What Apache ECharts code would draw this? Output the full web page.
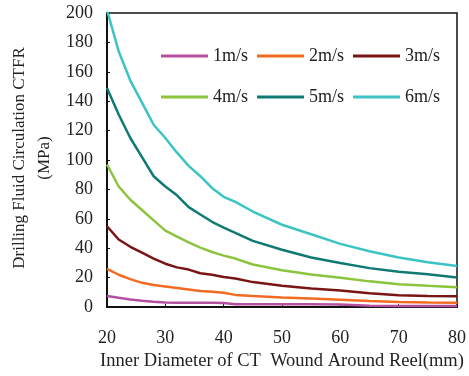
<!DOCTYPE html>
<html>
<head>
<meta charset="utf-8">
<script src="https://cdn.jsdelivr.net/npm/echarts@6/dist/echarts.min.js"></script>
<style>
  html, body { margin: 0; padding: 0; background: #fff; }
  #chart { width: 469px; height: 376px; }
</style>
</head>
<body>
<div id="chart"></div>
<script>
// inner diameter (mm)
const diameters = [20, 22, 24, 26, 28, 30, 32, 34, 36, 38, 40, 42, 45, 50, 55, 60, 65, 70, 75, 80]

// CTFR (MPa) per flow velocity
const v1 = [7.5, 6.3, 5.2, 4.3, 3.6, 3.1, 3.0, 3.0, 3.0, 2.9, 2.8, 2.0, 2.0, 2.0, 1.9, 1.7, 0.9, 0.8, 0.8, 0.8]
const v2 = [26, 22, 19, 16.5, 15, 14, 13, 12, 11, 10.5, 9.8, 8.3, 7.6, 6.6, 5.8, 5.0, 4.1, 3.4, 3.1, 3.0]
const v3 = [55, 46, 41, 37, 33, 29.5, 27, 25.5, 23, 22, 20.5, 19.5, 17, 14.5, 12.6, 11.3, 9.5, 8.1, 7.6, 7.3]
const v4 = [97, 82, 73, 66, 59, 52, 48, 44, 40.5, 37.5, 35, 33, 29, 25, 22.2, 20, 17.5, 15.6, 14.5, 13.5]
const v5 = [149, 131, 115, 102, 89, 82, 76, 68, 63, 58, 54, 50.5, 45, 39, 33.7, 30, 26.5, 24, 22.3, 20.2]
const v6 = [202, 174, 154, 139, 124, 115, 105, 96, 89, 81, 75, 71.5, 65, 56, 49.5, 43, 38, 33.7, 30.5, 28]

const names = ['1m/s', '2m/s', '3m/s', '4m/s', '5m/s', '6m/s']
const colors = ['#B5509F', '#F26B21', '#7A1515', '#8CC43E', '#0F7A74', '#3CC3C4']
const values = [v1, v2, v3, v4, v5, v6]

const xTicks = [20, 30, 40, 50, 60, 70, 80]
const yTicks = [0, 20, 40, 60, 80, 100, 120, 140, 160, 180, 200]

const font = 'Liberation Serif'
const chart = echarts.init(document.getElementById('chart'))

const legendCommon = {
  left: 161,
  padding: 0,
  itemWidth: 47,
  itemHeight: 3,
  itemGap: 9,
  icon: 'rect',
  textStyle: { fontFamily: font, fontSize: 18, color: '#222' }
}

chart.setOption({
  animation: false,
  grid: {
    left: 107, right: 9, top: 13, bottom: 68,
    show: true, borderColor: '#111', borderWidth: 1.5
  },
  legend: [
    Object.assign({ top: 47, data: names.slice(0, 3) }, legendCommon),
    Object.assign({ top: 88, data: names.slice(3) }, legendCommon)
  ],
  graphic: [{
    type: 'text',
    x: 32,
    y: 158,
    rotation: Math.PI / 2,
    style: {
      text: 'Drilling Fluid Circulation CTFR\n(MPa)',
      fontFamily: font,
      fontSize: 17,
      lineHeight: 25,
      fill: '#222',
      align: 'center',
      verticalAlign: 'middle'
    }
  }],
  xAxis: {
    type: 'value',
    min: xTicks[0], max: xTicks[xTicks.length - 1], interval: 10,
    name: 'Inner Diameter of CT  Wound Around Reel(mm)',
    nameLocation: 'middle',
    nameGap: 41,
    nameTextStyle: { fontFamily: font, fontSize: 18.5, color: '#222' },
    axisLine: { lineStyle: { color: '#111', width: 2 } },
    axisTick: { inside: true, length: 3, lineStyle: { color: '#111' } },
    axisLabel: { margin: 22, fontFamily: font, fontSize: 18, color: '#222' },
    splitLine: { show: false }
  },
  yAxis: {
    type: 'value',
    min: yTicks[0], max: yTicks[yTicks.length - 1], interval: 20,
    axisLine: { lineStyle: { color: '#111', width: 2 } },
    axisTick: { inside: true, length: 3, lineStyle: { color: '#111' } },
    axisLabel: { margin: 14, fontFamily: font, fontSize: 18, color: '#222' },
    splitLine: { show: false }
  },
  series: names.map((n, k) => ({
    name: n,
    type: 'line',
    symbol: 'none',
    clip: true,
    color: colors[k],
    lineStyle: { width: 2.5, color: colors[k] },
    data: diameters.map((d, i) => [d, values[k][i]])
  }))
})
</script>
</body>
</html>
